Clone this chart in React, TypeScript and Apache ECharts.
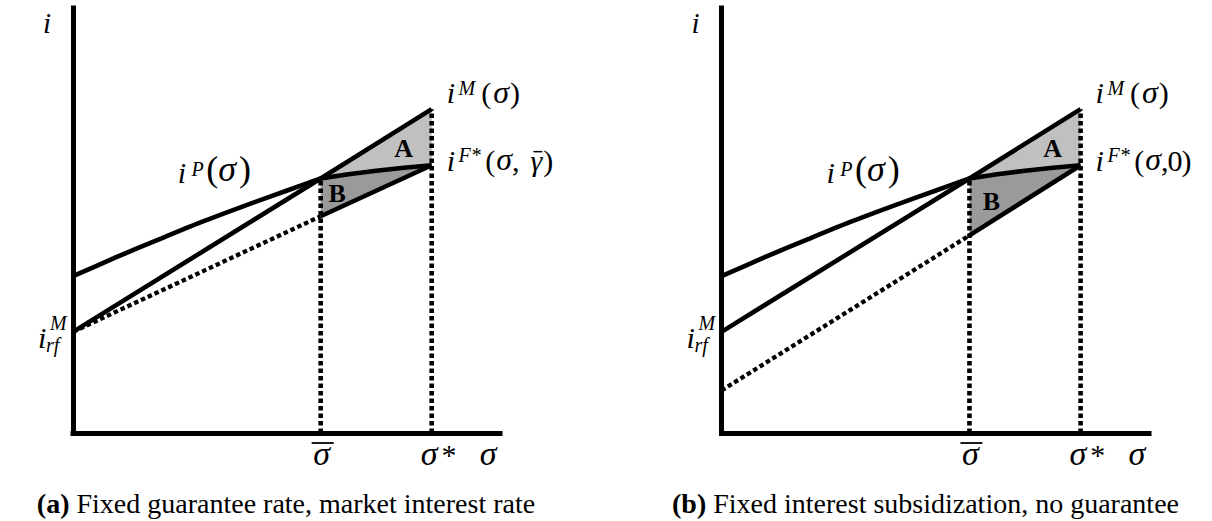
import React, { useEffect, useRef } from "react";
import * as echarts from "echarts";

// Positions of σ̄ and σ* on the horizontal axis
const SIGMA_BAR = 58;
const SIGMA_STAR = 84;

// i^M(σ): market interest rate
const marketX = [0, 58, 84];
const marketY = [23.8, 59.9, 76.2];

// i^P(σ): concave curve up to σ̄
const privateX = [0, 10, 20, 30, 40, 50, 58];
const privateY = [36.9, 41.3, 45.5, 49.6, 53.4, 57.0, 59.9];

// i^F*(σ, ·) between σ̄ and σ*
const fundX = [58, 64.5, 71, 77.5, 84];
const fundY = [59.9, 60.9, 61.7, 62.4, 63.0];

// lower line: dotted up to σ̄, solid beyond it
const floorX = [0, 58, 84];
const floorYA = [23.8, 51.0, 63.0];
const floorYB = [10.0, 46.5, 63.0];

const SERIF = "Liberation Serif, Times New Roman, Times, serif";

type Piece = { t: string; size: number; it?: boolean; bd?: boolean; dx?: number; dy?: number; bar?: boolean };

const pairs = (xs: number[], ys: number[]) => xs.map((x, i) => [x, ys[i]]);

export default function App() {
  const ref = useRef<HTMLDivElement>(null);

  useEffect(() => {
    const el = ref.current!;
    const chart = echarts.init(el, null, { renderer: "svg" });

    const ctx = document.createElement("canvas").getContext("2d")!;
    const measure = (p: Piece) => {
      ctx.font = `${p.it ? "italic " : ""}${p.bd ? "bold " : ""}${p.size}px ${SERIF}`;
      return ctx.measureText(p.t).width;
    };

    const solid = { color: "#000", width: 4.6, join: "round" as const };
    const dotted = { color: "#000", width: 4.6, type: [4.5, 3] as number[], cap: "butt" as const };

    const panels = [
      { floorY: floorYA, caption: ["(a)", " Fixed guarantee rate, market interest rate"], last: "γ", capDx: 213 },
      { floorY: floorYB, caption: ["(b)", " Fixed interest subsidization, no guarantee"], last: "0", capDx: 204 },
    ];

    const axisBase = {
      type: "value" as const,
      min: 0,
      max: 100,
      axisTick: { show: false },
      axisLabel: { show: false },
      splitLine: { show: false },
      axisLine: { show: true, onZero: false, lineStyle: { color: "#000", width: 5, cap: "square" as const } },
    };

    const series: any[] = [];
    panels.forEach((pn, k) => {
      const market = pairs(marketX, marketY);
      const priv = pairs(privateX, privateY);
      const fund = pairs(fundX, fundY);
      const floor = pairs(floorX, pn.floorY);
      const floorLeft = floor.filter((p) => p[0] <= SIGMA_BAR);
      const floorRight = floor.filter((p) => p[0] >= SIGMA_BAR);
      const regionA = [...market.filter((p) => p[0] >= SIGMA_BAR), ...fund.slice().reverse()];
      const regionB = [...fund, ...floorRight.slice().reverse()];

      series.push({
        type: "custom",
        xAxisIndex: k,
        yAxisIndex: k,
        silent: true,
        clip: false,
        z: 1,
        data: [[0, 0]],
        renderItem: (_params: any, api: any) => ({
          type: "group",
          children: [
            { type: "polygon", shape: { points: regionA.map((p) => api.coord(p)) }, style: { fill: "#c0c0c0" } },
            { type: "polygon", shape: { points: regionB.map((p) => api.coord(p)) }, style: { fill: "#9a9a9a" } },
          ],
        }),
      });

      const line = (data: number[][], lineStyle: any, extra: any = {}) => ({
        type: "line",
        xAxisIndex: k,
        yAxisIndex: k,
        data,
        symbol: "none",
        silent: true,
        z: 3,
        lineStyle,
        ...extra,
      });

      series.push(line([[SIGMA_BAR, 0], [SIGMA_BAR, privateY[privateY.length - 1]]], dotted));
      series.push(line([[SIGMA_STAR, 0], [SIGMA_STAR, marketY[marketY.length - 1]]], dotted));
      series.push(line(floorLeft, { ...dotted, width: 4.3 }));
      series.push(line(floorRight, solid));
      series.push(line(market, solid));
      series.push(line(priv, solid, { smooth: 0.3 }));
      series.push(line(fund, solid));
    });

    chart.setOption({
      animation: false,
      backgroundColor: "#fff",
      grid: [
        { left: 73, top: 8, width: 427, height: 425 },
        { left: 721.5, top: 8, width: 427.5, height: 425 },
      ],
      xAxis: [{ ...axisBase, gridIndex: 0 }, { ...axisBase, gridIndex: 1 }],
      yAxis: [{ ...axisBase, gridIndex: 0 }, { ...axisBase, gridIndex: 1 }],
      series,
    });

    // Lays out a run of text pieces on a common baseline
    const run = (x: number, base: number, pieces: Piece[], anchor: "left" | "center" = "left") => {
      const out: any[] = [];
      const total = pieces.reduce((s, p) => s + (p.dx || 0) + measure(p), 0);
      let cx = anchor === "center" ? x - total / 2 : x;
      for (const p of pieces) {
        cx += p.dx || 0;
        const w = measure(p);
        const b = base + (p.dy || 0);
        out.push({
          type: "text",
          x: cx,
          y: b - 0.34 * p.size,
          z: 10,
          silent: true,
          style: {
            text: p.t,
            fontFamily: SERIF,
            fontSize: p.size,
            fontStyle: p.it ? "italic" : "normal",
            fontWeight: p.bd ? "bold" : "normal",
            fill: "#000",
            align: "left",
            verticalAlign: "middle",
          },
        });
        if (p.bar) {
          out.push({
            type: "line",
            z: 10,
            silent: true,
            shape: { x1: cx + w * 0.25, y1: b - p.size * 0.62, x2: cx + w * 1.0, y2: b - p.size * 0.62 },
            style: { stroke: "#000", lineWidth: 1.5 },
          });
        }
        cx += w;
      }
      return out;
    };

    const graphics: any[] = [];
    panels.forEach((pn, k) => {
      const P = (x: number, y: number) =>
        chart.convertToPixel({ xAxisIndex: k, yAxisIndex: k }, [x, y]) as unknown as number[];
      const [ox, oy] = P(0, 0);
      const top = P(0, 100)[1];
      const sb = P(SIGMA_BAR, 0)[0];
      const ss = P(SIGMA_STAR, 0)[0];
      const yM = P(SIGMA_STAR, marketY[marketY.length - 1])[1];
      const yF = P(SIGMA_STAR, fundY[fundY.length - 1])[1];
      const yP = P(SIGMA_BAR, privateY[privateY.length - 1])[1];
      const yRf = P(0, marketY[0])[1];

      // vertical axis title
      graphics.push(...run(ox - 30, top + 25, [{ t: "i", size: 29, it: true }]));

      // i^M(σ)
      graphics.push(
        ...run(ss + 15, yM - 6, [
          { t: "i", size: 30, it: true },
          { t: "M", size: 20, it: true, dx: 3.5, dy: -8 },
          { t: "(", size: 30, dx: 6 },
          { t: "σ", size: 32, it: true, dx: 2 },
          { t: ")", size: 30, dx: 1 },
        ])
      );

      // i^F*(σ, ·)
      const tail: Piece[] =
        pn.last === "γ"
          ? [
              { t: ",", size: 30 },
              { t: "γ", size: 30, it: true, dx: 11, bar: true },
              { t: ")", size: 30, dx: 1 },
            ]
          : [
              { t: ",", size: 30 },
              { t: "0", size: 30, dx: -1 },
              { t: ")", size: 30, dx: -1 },
            ];
      graphics.push(
        ...run(ss + 15, yF + 5, [
          { t: "i", size: 30, it: true },
          { t: "F*", size: 20, it: true, dx: 3.5, dy: -8 },
          { t: "(", size: 30, dx: 4.5 },
          { t: "σ", size: 32, it: true, dx: 1 },
          ...tail,
        ])
      );

      // i^P(σ)
      graphics.push(
        ...run(sb - 143, yP + 4.6, [
          { t: "i", size: 30, it: true },
          { t: "P", size: 20, it: true, dx: 5.5, dy: -7.5 },
          { t: "(", size: 36, dx: 2.5, dy: -2 },
          { t: "σ", size: 36, it: true, dy: -2 },
          { t: ")", size: 36, dx: 3, dy: -2 },
        ])
      );

      // i_rf^M on the vertical axis
      graphics.push(...run(ox - 35, yRf + 16, [{ t: "i", size: 30, it: true }]));
      graphics.push(...run(ox - 23, yRf - 2, [{ t: "M", size: 20, it: true }]));
      graphics.push(...run(ox - 27, yRf + 20, [{ t: "rf", size: 20, it: true }]));

      // region letters
      graphics.push(...run(ss - 28, yF - 8, [{ t: "A", size: 26, bd: true }], "center"));
      graphics.push(
        ...run(k === 0 ? sb + 16.5 : sb + 22, k === 0 ? yP + 24 : yP + 32, [{ t: "B", size: 26, bd: true }], "center")
      );

      // σ̄, σ*, σ under the horizontal axis
      graphics.push(...run(sb + 1, oy + 32, [{ t: "σ", size: 34, it: true }], "center"));
      graphics.push({
        type: "line",
        z: 10,
        silent: true,
        shape: { x1: sb - 9, y1: oy + 10, x2: sb + 13, y2: oy + 10 },
        style: { stroke: "#000", lineWidth: 1.8 },
      });
      graphics.push(...run(ss - 11, oy + 32, [{ t: "σ", size: 34, it: true }, { t: "*", size: 30, dx: 4 }]));
      graphics.push(...run(ss + 48, oy + 32, [{ t: "σ", size: 34, it: true }]));

      // caption
      graphics.push(
        ...run(ox + pn.capDx, oy + 80, [
          { t: pn.caption[0], size: 28, bd: true },
          { t: pn.caption[1], size: 28 },
        ], "center")
      );
    });

    chart.setOption({ graphic: graphics });

    return () => chart.dispose();
  }, []);

  return (
    <div
      ref={ref}
      style={{ position: "fixed", left: 0, top: 0, width: 1212, height: 521, background: "#fff" }}
    />
  );
}
